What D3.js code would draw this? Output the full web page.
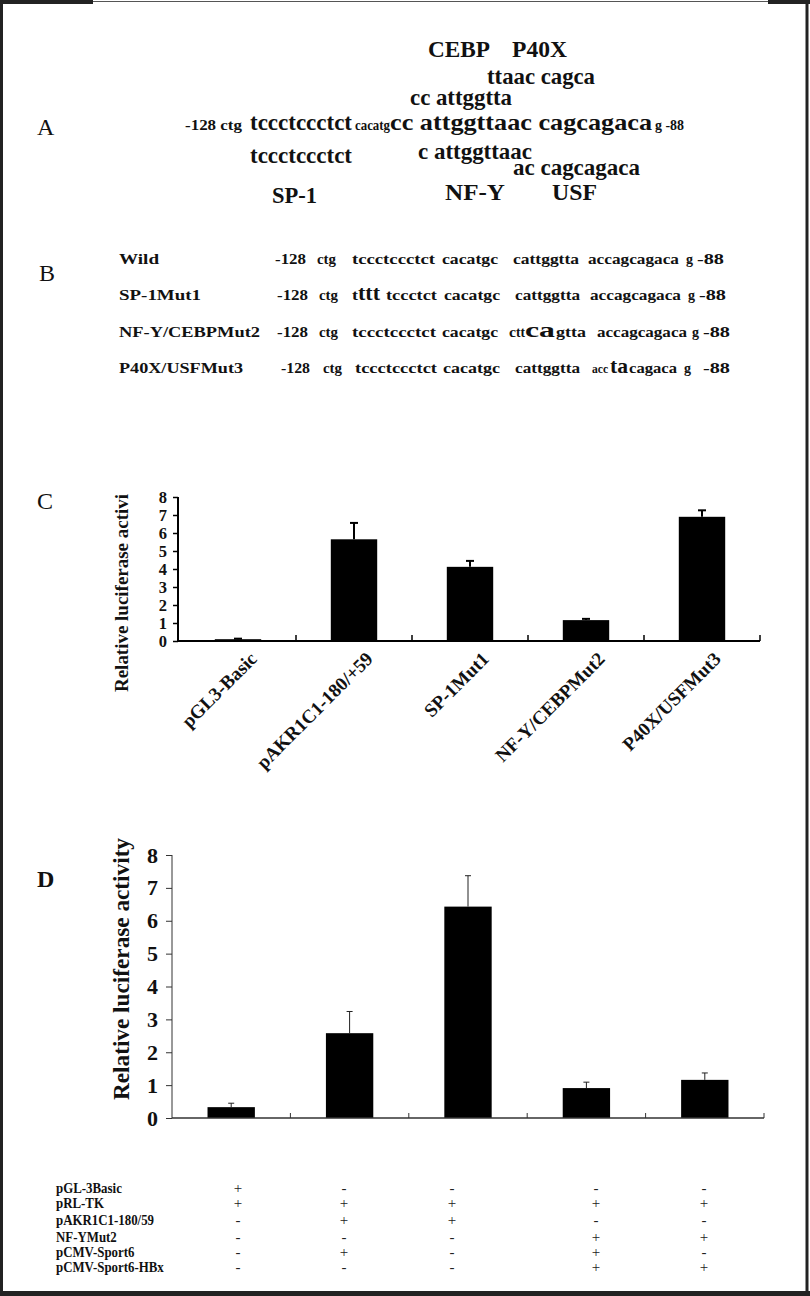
<!DOCTYPE html>
<html><head><meta charset="utf-8">
<script src="https://cdn.jsdelivr.net/npm/d3@7"></script>
<style>body{margin:0;background:#fff}svg{display:block}</style>
</head><body>
<svg id="fig" width="810" height="1296"></svg>
<script>
// ---------- DATA ----------
const cCategories = ["pGL3-Basic", "pAKR1C1-180/+59", "SP-1Mut1", "NF-Y/CEBPMut2", "P40X/USFMut3"];
const cValues = [0.10, 5.65, 4.12, 1.16, 6.90];
const cErrors = [0.03, 0.91, 0.33, 0.07, 0.36];
const cTicks = [0, 1, 2, 3, 4, 5, 6, 7, 8];
const cYLabel = "Relative luciferase activi";

const dGroups = ["g1", "g2", "g3", "g4", "g5"];
const dValues = [0.33, 2.58, 6.43, 0.91, 1.16];
const dErrors = [0.12, 0.66, 0.94, 0.18, 0.21];
const dTicks = [0, 1, 2, 3, 4, 5, 6, 7, 8];
const dYLabel = "Relative luciferase activity";

const tableRows = ["pGL-3Basic", "pRL-TK", "pAKR1C1-180/59", "NF-YMut2", "pCMV-Sport6", "pCMV-Sport6-HBx"];
const tableSigns = [
  ["+", "-", "-", "-", "-"],
  ["+", "+", "+", "+", "+"],
  ["-", "+", "+", "-", "-"],
  ["-", "-", "-", "+", "+"],
  ["-", "+", "-", "+", "-"],
  ["-", "-", "-", "+", "+"]
];

// Panel A sequence text
const aHeaderTop = ["CEBP", "P40X"];
const aRow1 = ["ttaac cagca"];
const aRow2 = ["cc attggtta"];
const aMain = ["-128 ctg", "tccctccctct", "cacatg", "cc attggttaac cagcagaca", "g -88"];
const aRow4 = ["tccctccctct", "c attggttaac"];
const aRow5 = ["ac cagcagaca"];
const aFooter = ["SP-1", "NF-Y", "USF"];

// Panel B sequences
const bLabels = ["Wild", "SP-1Mut1", "NF-Y/CEBPMut2", "P40X/USFMut3"];
const bSeqs = [
  ["-128", "ctg", "tccctccctct", "cacatgc", "cattggtta", "accagcagaca", "g", "-88"],
  ["-128", "ctg", "t", "ttt", "tccctct", "cacatgc", "cattggtta", "accagcagaca", "g", "-88"],
  ["-128", "ctg", "tccctccctct", "cacatgc", "c", "tt", "ca", "gtta", "accagcagaca", "g", "-88"],
  ["-128", "ctg", "tccctccctct", "cacatgc", "cattggtta", "acc", "ta", "cagaca", "g", "-88"]
];

// ---------- LAYOUT ----------
const svg = d3.select("#fig");
const SERIF = "'Liberation Serif', 'Times New Roman', serif";

function txt(g, s, x, y, o = {}) {
  const t = g.append("text").attr("x", x).attr("y", y).text(s)
    .attr("font-family", o.family || SERIF)
    .attr("font-size", o.size || 15)
    .attr("font-weight", o.weight || "bold")
    .attr("fill", o.fill || "#111")
    .attr("text-anchor", o.anchor || "start");
  if (o.len) t.attr("textLength", o.len).attr("lengthAdjust", "spacingAndGlyphs");
  return t;
}

// frame
svg.append("rect").attr("x", 0).attr("y", 0).attr("width", 3).attr("height", 1296).attr("fill", "#222");
svg.append("line").attr("x1", 0).attr("x2", 810).attr("y1", 1.5).attr("y2", 1.5).attr("stroke", "#555").attr("stroke-width", 1);
svg.append("rect").attr("x", 0).attr("y", 0).attr("width", 93).attr("height", 4).attr("fill", "#222");
svg.append("rect").attr("x", 768).attr("y", 0).attr("width", 42).attr("height", 4).attr("fill", "#222");
svg.append("rect").attr("x", 805.5).attr("y", 0).attr("width", 3).attr("height", 1296).attr("fill", "#222");
svg.append("rect").attr("x", 0).attr("y", 1291).attr("width", 810).attr("height", 5).attr("fill", "#222");

// panel letters
txt(svg, "A", 37, 135, {size: 24, weight: "normal"});
txt(svg, "B", 39, 281, {size: 24, weight: "normal"});
txt(svg, "C", 37, 509, {size: 24, weight: "normal"});
txt(svg, "D", 37, 887, {size: 24, weight: "bold"});

// ---------- PANEL A ----------
const gA = svg.append("g");
const aBig = 23;
const aHeadPos = [[428, 62], [512, 55]];
aHeaderTop.forEach((s, i) => txt(gA, s, aHeadPos[i][0], 57, {size: aBig, len: aHeadPos[i][1]}));
txt(gA, aRow1[0], 487, 84, {size: aBig, len: 108});
txt(gA, aRow2[0], 410, 105, {size: aBig, len: 102});
const aMainPos = [[185, 57, 15], [250, 102, aBig], [355, 35, 14], [390, 262, aBig], [655, 29, 15]];
aMain.forEach((s, i) => txt(gA, s, aMainPos[i][0], 130, {size: aMainPos[i][2], len: aMainPos[i][1]}));
txt(gA, aRow4[0], 250, 163, {size: aBig, len: 102});
txt(gA, aRow4[1], 418, 159, {size: aBig, len: 114});
txt(gA, aRow5[0], 513, 175, {size: aBig, len: 127});
const aFootPos = [[272, 45, 203], [445, 60, 200], [552, 45, 200]];
aFooter.forEach((s, i) => txt(gA, s, aFootPos[i][0], aFootPos[i][2], {size: aBig, len: aFootPos[i][1]}));

// ---------- PANEL B ----------
const gB = svg.append("g");
const bBase = [264, 300, 337, 373];
const bLabelLen = [40, 82, 141, 124];
bLabels.forEach((s, i) => txt(gB, s, 119, bBase[i], {size: 15, len: bLabelLen[i]}));
// [x, width, size] for each fragment
const bPos = [
  [[275,31,15],[317,19,15],[352,83,15],[442,56,15],[513,66,15],[588,91,15],[686,7,15],[697,27,15]],
  [[277,31,15],[319,19,15],[352,6,15],[358,22,22],[386,51,15],[444,56,15],[515,65,15],[590,91,15],[688,7,15],[699,27,15]],
  [[277,31,15],[319,19,15],[352,84,15],[442,56,15],[509,7,15],[516,9,14],[525,30,22],[556,30,15],[597,90,15],[692,7,15],[703,27,15]],
  [[281,29,15],[323,19,15],[355,82,15],[443,57,15],[515,65,15],[592,16,12],[610,18,22],[629,48,15],[684,7,15],[703,27,15]]
];
bSeqs.forEach((row, i) => row.forEach((s, j) => {
  const p = bPos[i][j];
  txt(gB, s, p[0], bBase[i], {size: p[2], len: p[1]});
}));

// ---------- PANEL C ----------
const gC = svg.append("g");
const cy = d3.scaleLinear().domain([0, 8]).range([641, 497]);
const cx = d3.scaleBand().domain(cCategories).range([180, 760]).paddingInner(0.6).paddingOuter(0.3);
gC.selectAll("rect.bar").data(cValues).join("rect")
  .attr("x", (d, i) => cx(cCategories[i])).attr("width", cx.bandwidth())
  .attr("y", d => cy(d)).attr("height", d => cy(0) - cy(d)).attr("fill", "#000");
cValues.forEach((v, i) => {
  const xm = cx(cCategories[i]) + cx.bandwidth() / 2;
  gC.append("line").attr("x1", xm).attr("x2", xm).attr("y1", cy(v)).attr("y2", cy(v + cErrors[i]))
    .attr("stroke", "#000").attr("stroke-width", 2);
  gC.append("line").attr("x1", xm - 4).attr("x2", xm + 4).attr("y1", cy(v + cErrors[i])).attr("y2", cy(v + cErrors[i]))
    .attr("stroke", "#000").attr("stroke-width", 2);
});
const cAxis = gC.append("g").attr("transform", "translate(178,0)")
  .call(d3.axisLeft(cy).tickValues(cTicks).tickSize(5).tickPadding(6));
cAxis.select(".domain").attr("stroke", "#000").attr("stroke-width", 2).attr("d", `M0,${cy(8)}V${cy(0)}`);
cAxis.selectAll(".tick line").attr("stroke", "#000").attr("stroke-width", 1.5);
cAxis.selectAll(".tick text").attr("font-family", SERIF).attr("font-size", 16.5).attr("font-weight", "bold").attr("fill", "#111");
gC.append("line").attr("x1", 177).attr("x2", 760).attr("y1", cy(0)).attr("y2", cy(0)).attr("stroke", "#000").attr("stroke-width", 2);
const cStep = cx.step();
cCategories.forEach((c, i) => {
  const xb = cx(c) + cx.bandwidth() / 2 + cStep / 2;
  gC.append("line").attr("x1", xb).attr("x2", xb).attr("y1", cy(0)).attr("y2", cy(0) - 6).attr("stroke", "#000").attr("stroke-width", 1.5);
});
cCategories.forEach(c => {
  const xm = cx(c) + cx.bandwidth() / 2 + 10;
  gC.append("text").attr("transform", `translate(${xm},${650}) rotate(-45)`)
    .attr("text-anchor", "end").attr("dy", "0.75em")
    .attr("font-family", SERIF).attr("font-size", 19).attr("font-weight", "bold").attr("fill", "#111").text(c);
});
gC.append("text").attr("transform", "translate(128,692) rotate(-90)")
  .attr("font-family", SERIF).attr("font-size", 19).attr("font-weight", "bold").attr("fill", "#111")
  .attr("textLength", 198).attr("lengthAdjust", "spacingAndGlyphs").text(cYLabel);

// ---------- PANEL D ----------
const gD = svg.append("g");
const dy = d3.scaleLinear().domain([0, 8]).range([1118, 855]);
const dx = d3.scaleBand().domain(dGroups).range([172, 764]).paddingInner(0.6).paddingOuter(0.3);
gD.selectAll("rect.bar").data(dValues).join("rect")
  .attr("x", (d, i) => dx(dGroups[i])).attr("width", dx.bandwidth())
  .attr("y", d => dy(d)).attr("height", d => dy(0) - dy(d)).attr("fill", "#000");
dValues.forEach((v, i) => {
  const xm = dx(dGroups[i]) + dx.bandwidth() / 2;
  gD.append("line").attr("x1", xm).attr("x2", xm).attr("y1", dy(v)).attr("y2", dy(v + dErrors[i]))
    .attr("stroke", "#222").attr("stroke-width", 1);
  gD.append("line").attr("x1", xm - 3).attr("x2", xm + 3).attr("y1", dy(v + dErrors[i])).attr("y2", dy(v + dErrors[i]))
    .attr("stroke", "#222").attr("stroke-width", 1);
});
const dAxis = gD.append("g").attr("transform", "translate(172,0)")
  .call(d3.axisLeft(dy).tickValues(dTicks).tickSize(6).tickPadding(8));
dAxis.select(".domain").attr("stroke", "#333").attr("stroke-width", 1).attr("d", `M0,${dy(8)}V${dy(0)}`);
dAxis.selectAll(".tick line").attr("stroke", "#333");
dAxis.selectAll(".tick text").attr("font-family", SERIF).attr("font-size", 22).attr("font-weight", "bold").attr("fill", "#111");
gD.append("line").attr("x1", 172).attr("x2", 764).attr("y1", dy(0)).attr("y2", dy(0)).attr("stroke", "#333").attr("stroke-width", 1.5);
const dStep = dx.step();
dGroups.forEach((g, i) => {
  const xb = dx(g) + dx.bandwidth() / 2 + dStep / 2;
  gD.append("line").attr("x1", xb).attr("x2", xb).attr("y1", dy(0)).attr("y2", dy(0) - 5).attr("stroke", "#333").attr("stroke-width", 1);
});
gD.append("text").attr("transform", "translate(129,1100) rotate(-90)")
  .attr("font-family", SERIF).attr("font-size", 23).attr("font-weight", "bold").attr("fill", "#111")
  .attr("textLength", 262).attr("lengthAdjust", "spacingAndGlyphs").text(dYLabel);

// ---------- TABLE ----------
const gT = svg.append("g");
const tBase = [1193, 1208, 1225, 1242, 1257, 1272];
const tCols = [238, 344, 452, 596, 704];
tableRows.forEach((r, i) => {
  gT.append("text").attr("transform", `translate(56,${tBase[i]}) scale(0.86,1)`)
    .attr("font-family", SERIF).attr("font-size", 15).attr("font-weight", "bold").attr("fill", "#111").text(r);
  tableSigns[i].forEach((s, j) => {
    txt(gT, s, tCols[j], tBase[i], {size: 15, weight: "normal", anchor: "middle", fill: "#222"});
  });
});
</script>
</body></html>
